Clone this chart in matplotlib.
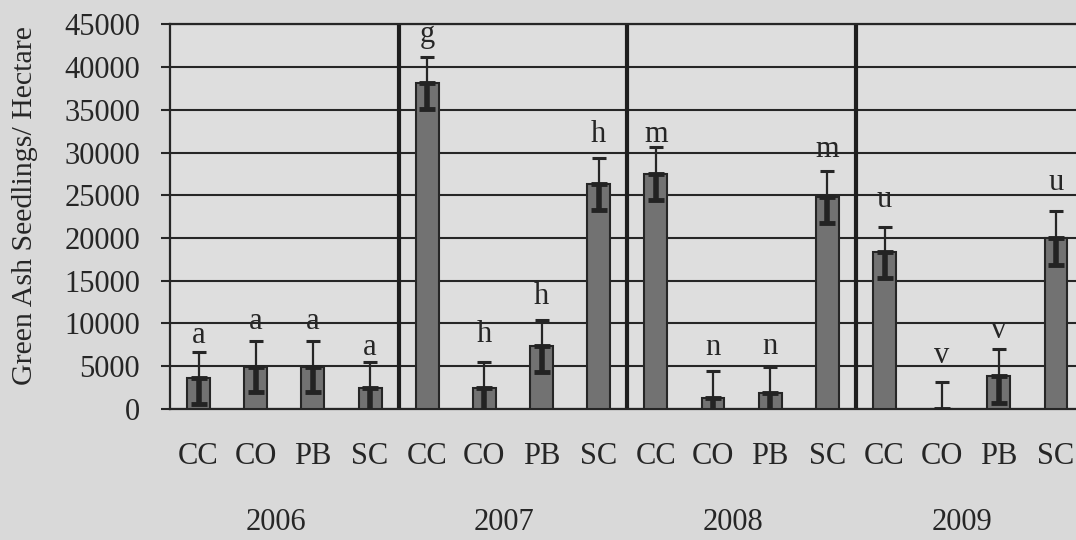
import matplotlib.pyplot as plt
import numpy as np

# seedling density per treatment, 2006-2009
years = ['2006', '2007', '2008', '2009']
treatments = ['CC', 'CO', 'PB', 'SC']
seedlings = [3640, 4950, 4950, 2400,
             38100, 2400, 7350, 26300,
             27500, 1300, 1900, 24850,
             18300, 0, 3850, 19950]
std_err = [3050, 2950, 2950, 3080,
           3050, 3100, 3000, 3050,
           3100, 3120, 3000, 3040,
           3000, 3170, 3120, 3150]
letters = ['a', 'a', 'a', 'a',
           'g', 'h', 'h', 'h',
           'm', 'n', 'n', 'm',
           'u', 'v', 'v', 'u']
# gap (px) between error-bar cap and letter baseline
letter_gap = [9, 12, 12, 7, 15, 20, 16, 16, 5, 16, 13, 14, 20, 19, 11, 21]

plt.rcParams['font.family'] = ['Liberation Serif', 'DejaVu Serif']
ink = '#262626'
paper = '#d9d9d9'

fig = plt.figure(figsize=(10.76, 5.4), dpi=100, facecolor=paper)
ax = fig.add_axes([0.158, 0.243, 0.850, 0.7117], facecolor='#dedede')

x = np.arange(len(seedlings))
ax.bar(x, seedlings, width=0.40, color='#727272', edgecolor=ink, linewidth=1.5, zorder=3)

# upper half of the error bar thin, lower half thick
err = np.array(std_err)
zeros = np.zeros_like(err)
ax.errorbar(x, seedlings, yerr=[zeros, err], fmt='none', ecolor=ink,
            elinewidth=1.6, capsize=5, capthick=2.2, zorder=4)
ax.errorbar(x, seedlings, yerr=[err, zeros], fmt='none', ecolor='#232323',
            elinewidth=4, capsize=5.5, capthick=3.5, zorder=4)

for xi, v, e, lab, g in zip(x, seedlings, std_err, letters, letter_gap):
    ax.annotate(lab, (xi, v + e), xytext=(0, g * 0.72), textcoords='offset points',
                ha='center', va='baseline', fontsize=22, color=ink, zorder=5)

# year separators
for b in [3.5, 7.5, 11.5]:
    ax.axvline(b, color='#1e1e1e', lw=3, zorder=2)

ax.set_xlim(-0.5, 15.5)
ax.set_ylim(0, 45000)
ax.set_yticks(np.arange(0, 45001, 5000))
ax.yaxis.grid(True, color=ink, lw=1.5, zorder=1)
ax.set_axisbelow(True)
ax.set_xticks(x)
ax.set_xticklabels(treatments * len(years))
ax.tick_params(axis='x', length=0, pad=24, labelsize=22, labelcolor=ink)
ax.tick_params(axis='y', length=6.5, width=1.5, color=ink, pad=15, labelsize=22, labelcolor=ink)

for side in ['left', 'bottom', 'top', 'right']:
    ax.spines[side].set_color(ink)
    ax.spines[side].set_linewidth(1.6)

for i, yr in enumerate(years):
    ax.text(i * 4 + 1.35, -0.295, yr, transform=ax.get_xaxis_transform(),
            ha='center', va='center', fontsize=22, color=ink)

fig.text(0.023, 0.62, 'Green Ash Seedlings/ Hectare', rotation=90,
         ha='center', va='center', fontsize=21.5, color=ink)

fig.savefig('out.png', dpi=100, facecolor=paper)
